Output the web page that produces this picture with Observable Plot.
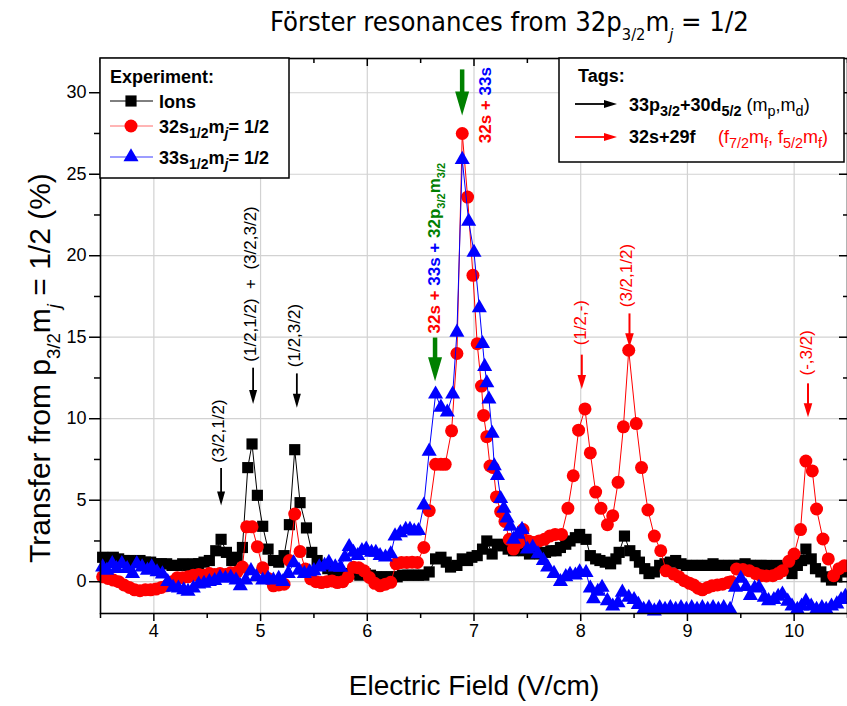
<!DOCTYPE html>
<html><head><meta charset="utf-8">
<script src="https://cdn.jsdelivr.net/npm/d3@7"></script>
<script src="https://cdn.jsdelivr.net/npm/@observablehq/plot@0.6"></script>
<style>
body{margin:0;background:#fff;}
#chart{position:relative;width:847px;height:706px;overflow:hidden;background:#fff;}
text{white-space:pre;}
</style></head><body><div id="chart"></div>
<script>
// ---- data (x = electric field V/cm, y = transfer %) ----
const ions = [[3.52,1.5],[3.57,1.4],[3.62,1.5],[3.67,1.4],[3.72,1.3],[3.77,1.3],[3.82,1.2],[3.87,1.3],[3.92,1.2],[3.97,1.2],[4.02,1.1],[4.07,1.1],[4.12,1.1],[4.17,1.0],[4.22,1.0],[4.27,1.1],[4.32,1.0],[4.37,1.1],[4.42,1.1],[4.47,1.2],[4.52,1.3],[4.58,1.9],[4.63,2.6],[4.68,1.8],[4.73,1.3],[4.78,1.5],[4.83,2.1],[4.88,7.0],[4.92,8.45],[4.97,5.3],[5.02,3.4],[5.07,2.0],[5.12,1.3],[5.17,1.2],[5.22,1.6],[5.27,3.5],[5.32,8.1],[5.37,4.85],[5.43,3.3],[5.48,1.8],[5.53,1.3],[5.58,1.0],[5.63,0.8],[5.68,0.7],[5.73,0.6],[5.78,0.5],[5.83,0.5],[5.88,0.5],[5.93,0.4],[5.98,0.5],[6.03,0.4],[6.08,0.3],[6.13,0.3],[6.18,0.3],[6.23,0.3],[6.28,0.3],[6.33,0.4],[6.38,0.4],[6.43,0.4],[6.48,0.4],[6.53,0.4],[6.58,0.6],[6.64,1.4],[6.69,1.5],[6.74,1.2],[6.78,0.9],[6.84,1.0],[6.89,1.4],[6.94,1.3],[6.98,1.5],[7.03,1.6],[7.08,2.0],[7.12,2.5],[7.17,1.7],[7.22,2.3],[7.27,2.2],[7.32,2.0],[7.37,1.9],[7.42,2.1],[7.47,1.9],[7.52,1.7],[7.57,1.8],[7.62,1.7],[7.67,1.8],[7.72,1.9],[7.77,1.9],[7.81,2.1],[7.86,2.3],[7.90,2.5],[7.95,2.7],[7.99,2.9],[8.05,2.6],[8.09,1.6],[8.14,1.4],[8.18,1.3],[8.23,1.2],[8.28,1.1],[8.33,1.4],[8.36,1.8],[8.41,2.8],[8.46,1.9],[8.51,1.6],[8.55,1.2],[8.60,0.8],[8.64,0.5],[8.69,0.6],[8.74,1.0],[8.79,1.1],[8.84,1.2],[8.89,1.3],[8.94,1.1],[8.99,1.0],[9.04,1.0],[9.09,1.0],[9.14,1.0],[9.19,1.0],[9.24,1.1],[9.29,1.0],[9.34,1.0],[9.39,1.0],[9.44,1.0],[9.49,1.0],[9.54,1.1],[9.59,1.0],[9.64,1.0],[9.69,1.0],[9.74,1.0],[9.79,0.9],[9.84,1.0],[9.89,0.9],[9.94,0.7],[9.98,0.5],[10.03,1.0],[10.07,1.3],[10.11,2.0],[10.16,1.4],[10.20,0.8],[10.25,0.6],[10.30,0.3],[10.35,0.1],[10.40,0.3],[10.45,0.6],[10.50,0.8]];

const s32 = [[3.52,0.3],[3.57,0.2],[3.62,0.1],[3.67,0.0],[3.72,-0.2],[3.77,-0.35],[3.82,-0.5],[3.87,-0.55],[3.92,-0.5],[3.97,-0.5],[4.02,-0.45],[4.07,-0.35],[4.12,-0.25],[4.17,0.0],[4.22,0.25],[4.27,0.25],[4.32,0.3],[4.37,0.4],[4.42,0.45],[4.47,0.4],[4.52,0.5],[4.57,0.45],[4.62,0.5],[4.67,0.45],[4.72,0.55],[4.78,0.6],[4.83,0.9],[4.87,3.37],[4.92,3.37],[4.97,2.15],[5.02,0.85],[5.07,0.2],[5.12,-0.25],[5.17,-0.2],[5.22,-0.15],[5.27,1.3],[5.32,4.15],[5.37,1.85],[5.42,0.78],[5.47,0.17],[5.52,0.0],[5.57,-0.05],[5.62,0.0],[5.67,0.05],[5.72,-0.05],[5.77,0.0],[5.82,0.3],[5.87,0.88],[5.92,0.85],[5.97,0.67],[6.02,0.26],[6.07,-0.1],[6.12,-0.25],[6.17,-0.15],[6.22,-0.04],[6.27,1.1],[6.32,1.18],[6.37,1.18],[6.42,1.2],[6.47,1.18],[6.53,2.1],[6.58,4.36],[6.64,7.2],[6.69,7.2],[6.73,7.2],[6.79,9.26],[6.84,14.0],[6.89,27.5],[6.94,23.6],[6.99,18.8],[7.03,14.6],[7.07,12.0],[7.09,10.2],[7.12,8.9],[7.15,7.1],[7.18,7.0],[7.21,5.2],[7.25,4.3],[7.29,3.7],[7.33,2.6],[7.37,2.0],[7.42,2.4],[7.46,3.2],[7.51,2.5],[7.56,2.4],[7.61,2.5],[7.66,2.6],[7.71,2.8],[7.76,2.9],[7.82,2.9],[7.88,4.5],[7.93,6.5],[7.98,9.3],[8.04,10.6],[8.09,7.9],[8.14,5.5],[8.19,4.5],[8.25,3.5],[8.30,4.05],[8.35,6.1],[8.40,9.5],[8.45,14.2],[8.52,9.7],[8.57,7.0],[8.63,4.4],[8.69,2.8],[8.75,1.9],[8.80,0.67],[8.87,0.47],[8.92,0.3],[8.97,0.06],[9.02,-0.1],[9.06,-0.2],[9.10,-0.4],[9.14,-0.5],[9.19,-0.35],[9.23,-0.25],[9.28,-0.2],[9.33,-0.15],[9.38,-0.05],[9.41,0.0],[9.46,0.78],[9.52,0.75],[9.58,0.67],[9.64,0.5],[9.69,0.37],[9.74,0.35],[9.80,0.37],[9.85,0.5],[9.89,0.67],[9.95,1.25],[10.00,1.7],[10.06,3.2],[10.11,7.4],[10.17,6.8],[10.21,4.46],[10.27,2.62],[10.32,1.4],[10.37,0.37],[10.42,0.8],[10.47,0.98]];

const s33 = [[3.52,0.9],[3.56,0.7],[3.61,1.1],[3.65,0.8],[3.70,1.1],[3.75,0.8],[3.80,0.5],[3.84,1.1],[3.89,0.9],[3.94,0.7],[3.98,0.9],[4.03,0.6],[4.08,0.47],[4.13,0.0],[4.18,-0.35],[4.23,-0.4],[4.28,-0.5],[4.32,-0.6],[4.37,-0.4],[4.42,-0.15],[4.47,-0.1],[4.52,0.0],[4.57,0.06],[4.62,0.26],[4.67,0.2],[4.72,0.26],[4.77,0.1],[4.81,-0.25],[4.86,0.1],[4.91,0.67],[4.96,0.3],[5.02,0.1],[5.07,0.2],[5.12,0.1],[5.17,0.2],[5.21,0.0],[5.26,0.5],[5.31,1.15],[5.36,0.7],[5.41,0.5],[5.46,0.6],[5.50,0.67],[5.55,0.9],[5.60,1.0],[5.64,1.18],[5.70,0.9],[5.75,0.88],[5.79,1.5],[5.83,2.15],[5.87,1.8],[5.91,1.6],[5.95,1.9],[5.99,2.0],[6.04,1.8],[6.08,1.8],[6.12,1.6],[6.17,1.5],[6.22,1.7],[6.26,2.8],[6.31,3.0],[6.36,3.2],[6.40,3.2],[6.44,3.1],[6.48,3.13],[6.53,4.7],[6.58,8.0],[6.64,11.5],[6.69,10.7],[6.75,10.4],[6.80,11.5],[6.84,15.3],[6.89,25.9],[6.95,22.1],[7.00,20.2],[7.05,16.8],[7.08,14.6],[7.10,13.2],[7.12,12.2],[7.14,11.2],[7.17,9.1],[7.19,7.1],[7.22,6.5],[7.25,5.1],[7.28,4.5],[7.31,3.9],[7.34,3.4],[7.37,2.6],[7.41,2.9],[7.45,3.2],[7.50,2.0],[7.55,2.1],[7.60,1.7],[7.65,1.3],[7.69,0.9],[7.75,0.5],[7.81,0.0],[7.86,0.3],[7.90,0.45],[7.95,0.4],[7.99,0.6],[8.05,0.55],[8.09,-0.4],[8.12,-1.06],[8.16,-0.6],[8.20,-0.35],[8.25,-1.17],[8.30,-1.5],[8.35,-1.3],[8.39,-0.65],[8.45,-0.96],[8.50,-1.1],[8.54,-1.4],[8.59,-1.7],[8.64,-1.6],[8.69,-1.8],[8.74,-1.6],[8.79,-1.7],[8.84,-1.6],[8.89,-1.7],[8.94,-1.6],[8.99,-1.7],[9.04,-1.6],[9.09,-1.7],[9.14,-1.6],[9.19,-1.7],[9.24,-1.6],[9.29,-1.7],[9.34,-1.6],[9.40,-1.7],[9.45,-0.35],[9.50,0.2],[9.55,-0.3],[9.59,-0.85],[9.63,-0.4],[9.67,-0.35],[9.72,-0.96],[9.76,-1.17],[9.81,-1.1],[9.85,-0.9],[9.89,-0.76],[9.94,-1.2],[9.98,-1.5],[10.03,-1.7],[10.07,-1.5],[10.11,-1.2],[10.16,-1.5],[10.21,-1.7],[10.26,-1.6],[10.30,-1.7],[10.35,-1.5],[10.40,-1.37],[10.44,-1.1],[10.48,-0.9]];

// ---- ticks ----
const xTicks = [4, 5, 6, 7, 8, 9, 10];
const xMinor = [3.5, 4.5, 5.5, 6.5, 7.5, 8.5, 9.5, 10.5];
const yTicks = [0, 5, 10, 15, 20, 25, 30];
const yMinor = [2.5, 7.5, 12.5, 17.5, 22.5, 27.5];

// ---- annotation tags (data coordinates) ----
const blackTags = [
  {x: 4.63, tail: 6.95, tip: 4.68, lx: 4.61, ly: 7.3, label: "(3/2,1/2)"},
  {x: 4.93, tail: 13.1, tip: 10.9, lx: 4.91, ly: 13.5, label: "(1/2,1/2)  +  (3/2,3/2)"},
  {x: 5.34, tail: 12.75, tip: 10.67, lx: 5.32, ly: 13.16, label: "(1/2,3/2)"}
];
const redTags = [
  {x: 8.01, tail: 13.9, tip: 11.83, lx: 7.995, ly: 14.5, label: "(1/2,-)"},
  {x: 8.457, tail: 16.43, tip: 14.39, lx: 8.426, ly: 16.84, label: "(3/2,1/2)"},
  {x: 10.13, tail: 12.14, tip: 10.09, lx: 10.115, ly: 12.65, label: "(-,3/2)"}
];
const greenTags = [
  {x: 6.635, tail: 14.95, tip: 12.3},
  {x: 6.889, tail: 31.4, tip: 28.6}
];

const P = a => a.map(([x, y]) => ({x, y}));
const headSym = (len, half) => ({draw(ctx) { ctx.moveTo(0, 0); ctx.lineTo(-half, -len); ctx.lineTo(half, -len); ctx.closePath(); }});

const RED = "#ff0000", BLUE = "#0000ff", GREEN = "#008000";
const FONT = "'Liberation Sans', Arial, Helvetica, sans-serif";

const chart = Plot.plot({
  width: 847, height: 706,
  marginLeft: 100, marginRight: 0, marginTop: 58, marginBottom: 93,
  x: {domain: [3.5, 10.5], label: null},
  y: {domain: [-1.95, 32.1], label: null},
  style: {fontFamily: FONT, fontSize: "18px", color: "black", background: "white", overflow: "visible"},
  marks: [
    Plot.gridX(xTicks, {stroke: "#d2d2d2", strokeOpacity: 1, strokeWidth: 1.2}),
    Plot.gridY(yTicks, {stroke: "#d2d2d2", strokeOpacity: 1, strokeWidth: 1.2}),
    Plot.line(P(ions), {x: "x", y: "y", stroke: "black", strokeWidth: 1}),
    Plot.dot(P(ions), {x: "x", y: "y", symbol: "square", r: 6.3, fill: "black", stroke: "none"}),
    Plot.line(P(s32), {x: "x", y: "y", stroke: RED, strokeWidth: 1}),
    Plot.dot(P(s32), {x: "x", y: "y", symbol: "circle", r: 6.5, fill: RED, stroke: "none"}),
    Plot.line(P(s33), {x: "x", y: "y", stroke: BLUE, strokeWidth: 1}),
    Plot.dot(P(s33), {x: "x", y: "y", symbol: "triangle", r: 5.6, fill: BLUE, stroke: "none"}),
    // arrows
    Plot.ruleX(blackTags, {x: "x", y1: "tail", y2: "tip", stroke: "black", strokeWidth: 1.8, insetBottom: 10}),
    Plot.dot(blackTags, {x: "x", y: "tip", symbol: headSym(14, 4), r: 5, fill: "black", stroke: "none"}),
    Plot.ruleX(redTags, {x: "x", y1: "tail", y2: "tip", stroke: RED, strokeWidth: 2, insetBottom: 10}),
    Plot.dot(redTags, {x: "x", y: "tip", symbol: headSym(14, 4.3), r: 5, fill: RED, stroke: "none"}),
    Plot.ruleX(greenTags, {x: "x", y1: "tail", y2: "tip", stroke: GREEN, strokeWidth: 4.5, insetBottom: 20}),
    Plot.dot(greenTags, {x: "x", y: "tip", symbol: headSym(24, 7), r: 5, fill: GREEN, stroke: "none"}),
    Plot.text(blackTags, {x: "lx", y: "ly", text: "label", rotate: -90, textAnchor: "start", lineAnchor: "middle", fill: "black", fontSize: 17}),
    Plot.text(redTags, {x: "lx", y: "ly", text: "label", rotate: -90, textAnchor: "start", lineAnchor: "middle", fill: RED, fontSize: 17}),
    // axes
    Plot.axisX(xTicks, {tickSize: 8, tickPadding: 3, fontSize: 18, strokeWidth: 1.5, label: null}),
    Plot.axisX(xMinor, {tickSize: 5, fill: "none", strokeWidth: 1.5, label: null}),
    Plot.axisX(xTicks, {anchor: "top", tickSize: -7, fill: "none", strokeWidth: 1.5, label: null}),
    Plot.axisX(xMinor, {anchor: "top", tickSize: -4, fill: "none", strokeWidth: 1.5, label: null}),
    Plot.axisY(yTicks, {tickSize: 11, tickPadding: 3, fontSize: 18, strokeWidth: 1.5, label: null}),
    Plot.axisY(yMinor, {tickSize: 6, fill: "none", strokeWidth: 1.5, label: null}),
    Plot.axisY(yTicks, {anchor: "right", tickSize: -9, fill: "none", strokeWidth: 1.5, label: null}),
    Plot.axisY(yMinor, {anchor: "right", tickSize: -5, fill: "none", strokeWidth: 1.5, label: null}),
    Plot.frame({stroke: "black", strokeWidth: 1.6})
  ]
});
document.getElementById("chart").appendChild(chart);

// ---- rich text helper ----
function rich(sel, parts, size, subRatio = 0.7, shiftRatio = 0.3) {
  let shift = 0;
  for (const p of parts) {
    const target = p.sub ? size * shiftRatio : 0;
    const ts = sel.append("tspan").text(p.t).attr("font-size", p.sub ? size * subRatio : size);
    if (target - shift !== 0) ts.attr("dy", target - shift);
    shift = target;
    if (p.c) ts.attr("fill", p.c);
    if (p.w) ts.attr("font-weight", p.w);
    if (p.i) ts.attr("font-style", "italic");
  }
  return sel;
}

const svg = d3.select(chart);
const sx = chart.scale("x"), sy = chart.scale("y");
const layer = svg.append("g").attr("text-anchor", "start");

// title
rich(layer.append("text").attr("x", 270).attr("y", 31)
  .attr("font-family", "'Liberation Sans Narrow', 'Arial Narrow', 'DejaVu Sans Condensed', sans-serif").attr("font-stretch", "condensed").attr("fill", "black"),
  [{t: "Förster resonances from 32p"}, {t: "3/2", sub: true}, {t: "m"}, {t: "j", sub: true, i: true}, {t: " = 1/2"}], 27.2, 0.6, 0.33);

// axis titles
rich(layer.append("text").attr("transform", "translate(50,563) rotate(-90)")
  .attr("font-family", FONT).attr("fill", "black"),
  [{t: "Transfer from p"}, {t: "3/2", sub: true}, {t: "m"}, {t: "j", sub: true, i: true}, {t: " = 1/2 (%)"}], 30, 0.62, 0.33);
layer.append("text").attr("x", 474).attr("y", 695).attr("text-anchor", "middle")
  .attr("font-family", FONT).attr("font-size", 28).attr("fill", "black").text("Electric Field (V/cm)");

// rich annotation labels near the main peak
rich(layer.append("text").attr("transform", `translate(${sx.apply(7.107)},${sy.apply(26.87)}) rotate(-90)`)
  .attr("dy", "0.35em").attr("font-family", FONT).attr("font-weight", "bold"),
  [{t: "32s + ", c: RED}, {t: "33s", c: BLUE}], 17);
rich(layer.append("text").attr("transform", `translate(${sx.apply(6.625)},${sy.apply(15.2)}) rotate(-90)`)
  .attr("dy", "0.35em").attr("font-family", FONT).attr("font-weight", "bold"),
  [{t: "32s + ", c: RED}, {t: "33s + ", c: BLUE}, {t: "32p", c: GREEN}, {t: "3/2", sub: true, c: GREEN}, {t: "m", c: GREEN}, {t: "3/2", sub: true, c: GREEN}], 17, 0.65, 0.3);

// ---- legend: Experiment ----
const lg = layer.append("g").attr("font-family", FONT).attr("font-weight", "bold");
lg.append("rect").attr("x", 100).attr("y", 58).attr("width", 189).attr("height", 120)
  .attr("fill", "white").attr("stroke", "black").attr("stroke-width", 1.5);
lg.append("text").attr("x", 110).attr("y", 83).attr("font-size", 18).text("Experiment:");
const rows = [
  {y: 101, c: "black", line: "black", sym: "square", parts: [{t: "Ions"}]},
  {y: 126, c: RED, line: "#ff6a6a", sym: "circle", parts: [{t: "32s"}, {t: "1/2", sub: true}, {t: "m"}, {t: "j", sub: true, i: true}, {t: "= 1/2"}]},
  {y: 157, c: BLUE, line: "#3a3aff", sym: "triangle", parts: [{t: "33s"}, {t: "1/2", sub: true}, {t: "m"}, {t: "j", sub: true, i: true}, {t: "= 1/2"}]}
];
for (const r of rows) {
  lg.append("line").attr("x1", 110).attr("x2", 153).attr("y1", r.y).attr("y2", r.y).attr("stroke", r.line).attr("stroke-width", 1);
  const symType = r.sym === "square" ? d3.symbolSquare : r.sym === "circle" ? d3.symbolCircle : d3.symbolTriangle;
  const rr = r.sym === "square" ? 6.3 : r.sym === "circle" ? 6.5 : 5.6;
  lg.append("path").attr("transform", `translate(131,${r.y})`).attr("d", d3.symbol(symType, Math.PI * rr * rr)()).attr("fill", r.c);
  rich(lg.append("text").attr("x", 159).attr("y", r.y + 6.5).attr("fill", "black"), r.parts, 18, 0.78, 0.3);
}

// ---- legend: Tags ----
const tg = layer.append("g").attr("font-family", FONT);
tg.append("rect").attr("x", 559).attr("y", 58).attr("width", 285).attr("height", 104)
  .attr("fill", "white").attr("stroke", "black").attr("stroke-width", 1.5);
tg.append("text").attr("x", 578).attr("y", 82).attr("font-size", 18).attr("font-weight", "bold").text("Tags:");
function hArrow(y, color) {
  tg.append("line").attr("x1", 575).attr("x2", 607).attr("y1", y).attr("y2", y).attr("stroke", color).attr("stroke-width", 1.8);
  tg.append("path").attr("d", `M617,${y}L604,${y - 4}L604,${y + 4}Z`).attr("fill", color);
}
hArrow(104, "black");
hArrow(137, RED);
rich(tg.append("text").attr("x", 629).attr("y", 111).attr("fill", "black"),
  [{t: "33p", w: "bold"}, {t: "3/2", sub: true, w: "bold"}, {t: "+30d", w: "bold"}, {t: "5/2", sub: true, w: "bold"},
   {t: " (m"}, {t: "p", sub: true}, {t: ",m"}, {t: "d", sub: true}, {t: ")"}], 18, 0.8, 0.3);
tg.append("text").attr("x", 629).attr("y", 143).attr("font-size", 18).attr("font-weight", "bold").attr("fill", "black").text("32s+29f");
rich(tg.append("text").attr("x", 718).attr("y", 143).attr("fill", RED),
  [{t: "(f"}, {t: "7/2", sub: true}, {t: "m"}, {t: "f", sub: true}, {t: ", f"}, {t: "5/2", sub: true}, {t: "m"}, {t: "f", sub: true}, {t: ")"}], 18, 0.8, 0.3);
</script>
</body></html>
